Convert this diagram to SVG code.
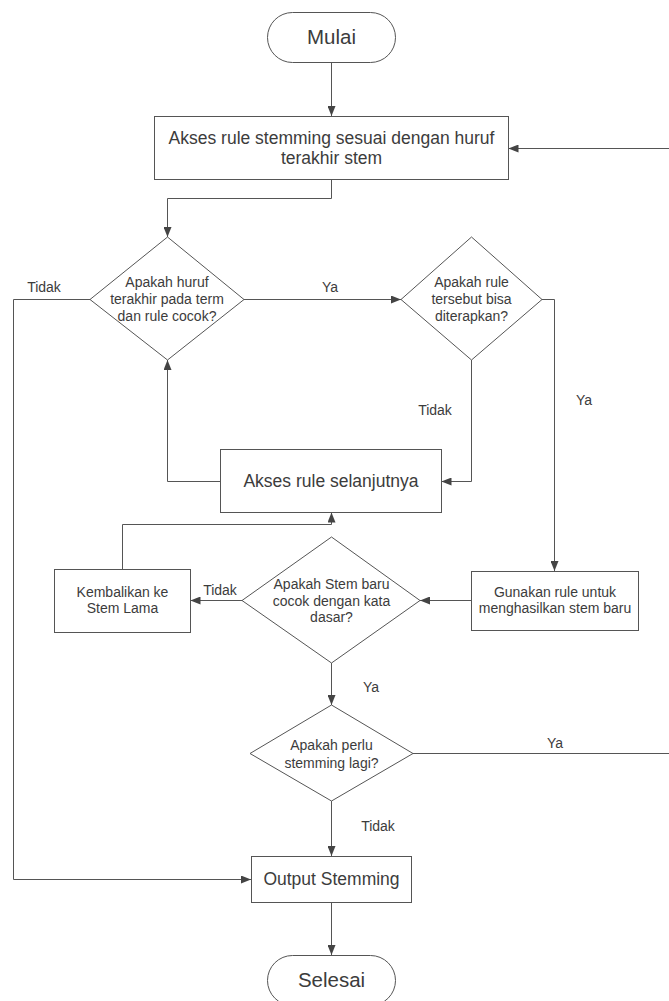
<svg xmlns="http://www.w3.org/2000/svg" width="669" height="1001" viewBox="0 0 669 1001">
<style>
.s{fill:#fff;stroke:#555;stroke-width:1}
.c{fill:none;stroke:#555;stroke-width:1}
text{font-family:"Liberation Sans",Arial,sans-serif;fill:#3c3c3c;text-anchor:middle}
.t14{font-size:14px}
.t17{font-size:17.5px}
.t20{font-size:20.5px}
</style>
<defs>
<marker id="a" markerUnits="userSpaceOnUse" markerWidth="10" markerHeight="8" refX="10" refY="4" orient="auto">
<path d="M0,0 L10,4 L0,8 z" fill="#444"/>
</marker>
</defs>
<rect width="669" height="1001" fill="#fff"/>
<g id="connectors" class="c">
<path class="c" d="M331.5 62 V116" marker-end="url(#a)"/>
<path class="c" d="M331.5 179.5 V198.5 H167.5 V237" marker-end="url(#a)"/>
<path class="c" d="M413 753.5 H671 V148.5 H508.5" marker-end="url(#a)"/>
<path class="c" d="M90 299.5 H13.5 V879.5 H251" marker-end="url(#a)"/>
<path class="c" d="M244 299.5 H401" marker-end="url(#a)"/>
<path class="c" d="M542 299.5 H554.5 V571" marker-end="url(#a)"/>
<path class="c" d="M471.5 360 V481.5 H441.5" marker-end="url(#a)"/>
<path class="c" d="M220.5 481.5 H167.5 V360" marker-end="url(#a)"/>
<path class="c" d="M471.5 600.5 H420" marker-end="url(#a)"/>
<path class="c" d="M242 600.5 H190.5" marker-end="url(#a)"/>
<path class="c" d="M122.5 569.5 V524.5 H331.5 V512.5" marker-end="url(#a)"/>
<path class="c" d="M331.5 663 V705" marker-end="url(#a)"/>
<path class="c" d="M331.5 801 V856" marker-end="url(#a)"/>
<path class="c" d="M331.5 902.5 V955" marker-end="url(#a)"/>
</g>
<g id="labels">
<text class="t14" x="44" y="292">Tidak</text>
<text class="t14" x="330" y="292">Ya</text>
<text class="t14" x="435" y="415">Tidak</text>
<text class="t14" x="584" y="405">Ya</text>
<text class="t14" x="220" y="595">Tidak</text>
<text class="t14" x="371" y="692">Ya</text>
<text class="t14" x="555" y="748">Ya</text>
<text class="t14" x="378" y="831">Tidak</text>
</g>
<g id="mulai">
<rect class="s" x="267.5" y="12.5" width="128" height="50" rx="25"/>
<text class="t20" x="331.5" y="44">Mulai</text>
</g>
<g id="akses-rule">
<rect class="s" x="154.5" y="116.5" width="354" height="63"/>
<text class="t17" x="331.5" y="144">Akses rule stemming sesuai dengan huruf</text>
<text class="t17" x="331.5" y="164">terakhir stem</text>
</g>
<g id="cek-huruf">
<polygon class="s" points="167.5,237 244,299.5 167.5,360 90,299.5"/>
<text class="t14" x="167" y="287">Apakah huruf</text>
<text class="t14" x="167" y="304">terakhir pada term</text>
<text class="t14" x="167" y="321">dan rule cocok?</text>
</g>
<g id="cek-rule">
<polygon class="s" points="471.5,237 542,299.5 471.5,360 401,299.5"/>
<text class="t14" x="471.5" y="287">Apakah rule</text>
<text class="t14" x="471.5" y="304">tersebut bisa</text>
<text class="t14" x="471.5" y="321">diterapkan?</text>
</g>
<g id="rule-selanjutnya">
<rect class="s" x="220.5" y="449.5" width="221" height="63"/>
<text class="t17" x="331" y="487">Akses rule selanjutnya</text>
</g>
<g id="kembalikan">
<rect class="s" x="54.5" y="569.5" width="136" height="63"/>
<text class="t14" x="122.5" y="597">Kembalikan ke</text>
<text class="t14" x="122.5" y="613">Stem Lama</text>
</g>
<g id="cek-stem">
<polygon class="s" points="331.5,537 420,600.5 331.5,663 242,600.5"/>
<text class="t14" x="331.5" y="589">Apakah Stem baru</text>
<text class="t14" x="331.5" y="606">cocok dengan kata</text>
<text class="t14" x="331.5" y="622">dasar?</text>
</g>
<g id="gunakan-rule">
<rect class="s" x="471.5" y="571.5" width="167" height="59"/>
<text class="t14" x="555" y="597">Gunakan rule untuk</text>
<text class="t14" x="555" y="613">menghasilkan stem baru</text>
</g>
<g id="cek-lagi">
<polygon class="s" points="331.5,705 413,753.5 331.5,801 250,753.5"/>
<text class="t14" x="331.5" y="750">Apakah perlu</text>
<text class="t14" x="331.5" y="768">stemming lagi?</text>
</g>
<g id="output">
<rect class="s" x="251.5" y="856.5" width="160" height="46"/>
<text class="t17" x="331.5" y="885">Output Stemming</text>
</g>
<g id="selesai">
<rect class="s" x="267.5" y="955.5" width="128" height="50" rx="25"/>
<text class="t20" x="331.5" y="987">Selesai</text>
</g>
</svg>
